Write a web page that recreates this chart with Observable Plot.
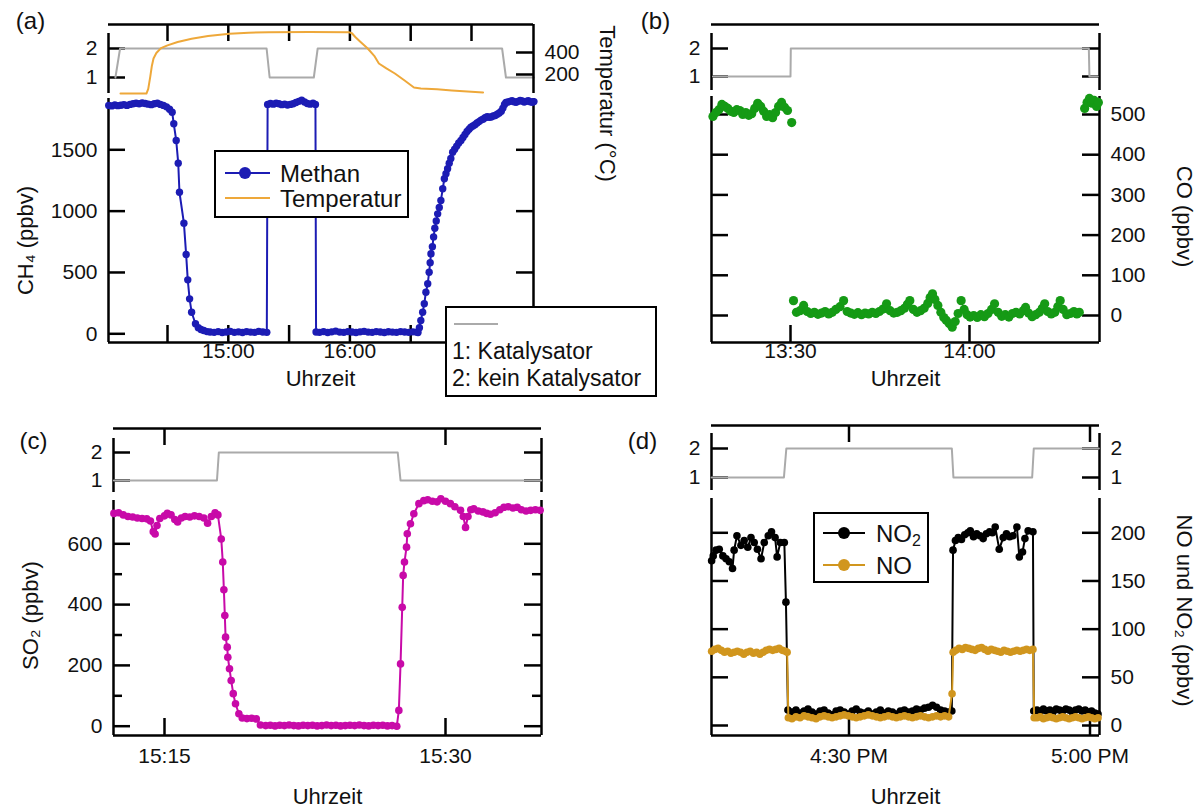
<!DOCTYPE html>
<html><head><meta charset="utf-8">
<script src="https://cdn.jsdelivr.net/npm/d3@7"></script>
<script src="https://cdn.jsdelivr.net/npm/@observablehq/plot@0.6"></script>
<style>
body{margin:0;background:#fff;}
#fig{position:relative;width:1196px;height:811px;overflow:hidden;background:#fff;}
</style></head><body><div id="fig"></div>
<script>
// ---------------- DATA (time = minutes since midnight) ----------------
// Panel (a): CH4 and temperature
const aTicks = [870, 900, 930, 960, 990, 1020];
const aTickLabels = ["", "15:00", "", "16:00", "", ""];
const ch4Ticks = [0, 500, 1000, 1500];
const tempTicks = [200, 400];
const catTicks = [1, 2];
const catA = [[844.3,1],[846.6,2],[918.9,2],[920.4,1],[942.2,1],[944.1,2],[1035.1,2],[1037.0,1],[1050.8,1]];
const tempA = [[846.8,27],[859.6,27],[860.5,70],[861.5,180],[862.3,280],[863.1,345],[864.5,395],[866.8,440],[870,465],[875,495],[881.9,525],[890,550],[900.6,570],[910,580],[919.9,585],[940,586],[959.4,585],[961,575],[962.9,536],[965,500],[968.8,436],[972,370],[974.3,300],[978,255],[982.2,209],[987,145],[991.6,82],[995,73],[1003,65],[1010.3,55],[1018,45],[1025.7,36]];
const methan = [
[841,1862],[842.5,1858],[844,1865],[845.5,1860],[847,1863],[848.5,1868],[850,1862],[851.5,1870],[853,1875],[854.5,1880],[856,1876],[857.5,1882],[859,1878],[860.5,1872],[862,1868],[863.5,1875],[865,1880],[866.5,1870],[868,1862],[869.5,1850],[871,1830],
[872.3,1806],[873.1,1712],[874.3,1576],[875.3,1391],[875.9,1154],[878.1,902],[879.2,646],[880,440],[880.9,285],[881.9,176],[883.8,82],[885.2,50],[886.5,35],[887.9,27],[889.5,18],
[891,15],[893,12],[895,18],[897,10],[899,15],[901,20],[903,12],[905,16],[907,10],[909,18],[911,14],[913,12],[915,20],[917,15],[919,12],
[919.4,1870],[920.8,1878],[922.2,1872],[923.6,1880],[925,1875],[926.4,1868],[927.8,1872],[929.2,1865],[930.6,1870],[932,1876],[933.4,1885],[934.8,1895],[936.2,1905],[937.6,1890],[939,1878],[940.4,1872],[941.8,1880],[943,1870],
[943.3,15],[945,12],[947,18],[949,10],[951,16],[953,22],[955,14],[957,12],[959,18],[961,15],[963,10],[965,16],[967,20],[969,14],[971,12],[973,18],[975,15],[977,11],[979,17],[981,14],[983,12],[985,18],[987,15],[989,12],[991,16],[992.8,14],
[993.6,10],[994.3,50],[995,108],[995.9,176],[996.7,245],[997.5,339],[998.4,408],[999.1,502],[999.6,580],[1000,652],[1000.7,710],[1001.3,790],[1001.9,860],[1002.6,920],[1003.3,978],[1004.1,1030],[1004.9,1087],[1005.8,1182],[1006.6,1264],[1007.4,1305],[1008.2,1345],[1009,1390],[1009.8,1430],[1010.7,1480],[1011.7,1505],[1012.7,1530],[1013.7,1555],[1014.8,1576],[1015.8,1600],[1016.8,1625],[1017.8,1650],[1018.8,1668],[1019.7,1684],[1020.7,1695],[1021.7,1705],[1022.7,1718],[1023.7,1730],[1024.7,1742],[1025.7,1750],[1026.7,1762],[1027.7,1770],[1028.7,1765],[1029.7,1768],[1030.7,1775],[1031.7,1780],[1032.7,1790],[1033.7,1800],[1034.7,1815],[1035.5,1840],[1036.3,1870],[1037,1885],[1038,1890],[1039,1895],[1040,1900],[1041,1892],[1042,1888],[1043,1895],[1044,1902],[1045,1898],[1046,1890],[1047,1895],[1048,1900],[1049,1892],[1050,1888],[1050.8,1893]
];

// Panel (b): CO
const bTicks = [810, 840];
const bTickLabels = ["13:30", "14:00"];
const coTicks = [0, 100, 200, 300, 400, 500];
const catB = [[797,1],[810,1],[810.05,2],[860,2],[860.1,1],[861.5,1]];
const coB = [
[797,495],[797.5,505],[798,512],[798.5,525],[799,520],[799.5,515],[800,508],[800.5,505],[801,512],[801.5,510],[802,500],[802.5,505],[803,498],[803.5,502],[804,515],[804.5,528],[805,520],[805.5,508],[806,495],[806.5,500],[807,492],[807.5,505],[808,520],[808.5,530],[809,518],[809.5,510],[810.2,480],
[810.5,37],[811,8],[811.6,12],[812.2,25],[812.8,10],[813.4,5],[814,8],[814.6,3],[815.2,6],[815.8,10],[816.4,4],[817,8],[817.6,15],[818.3,22],[818.9,37],[819.5,10],[820.1,6],[820.7,3],[821.3,7],[821.9,2],[822.5,6],[823.1,4],[823.7,8],[824.3,5],[824.9,10],[825.5,16],[826.1,29],[826.7,12],[827.3,6],[827.9,8],[828.5,12],[829.1,18],[829.6,28],[830,37],[830.6,15],[831.2,8],[831.8,12],[832.4,18],[833,30],[833.4,45],[833.8,54],[834.2,40],[834.7,25],[835.2,8],[835.7,-5],[836.1,-12],[836.6,-20],[837.1,-29],[837.6,-15],[838.1,5],[838.6,37],[839.1,15],[839.6,2],[840.1,-4],[840.7,0],[841.3,-5],[841.9,2],[842.5,-3],[843.1,5],[843.7,15],[844.2,29],[844.8,8],[845.4,-2],[846,2],[846.6,-4],[847.2,5],[847.8,8],[848.4,4],[849,12],[849.4,20],[849.9,6],[850.5,-3],[851.1,2],[851.7,8],[852.2,18],[852.6,29],[853.1,10],[853.7,4],[854.3,8],[854.8,22],[855.2,37],[855.7,15],[856.3,2],[856.9,5],[857.5,10],[858,4],[858.4,8],
[859.3,515],[859.7,530],[860.1,540],[860.5,528],[860.9,535],[861.3,520],[861.6,530]
];

// Panel (c): SO2
const cTicks = [915, 930];
const cTickLabels = ["15:15", "15:30"];
const so2Ticks = [0, 200, 400, 600];
const so2Minor = [100, 300, 500];
const catC = [[912.3,1],[917.8,1],[917.9,2],[927.45,2],[927.6,1],[935.1,1]];
const so2C = [
[912.3,700],[912.55,702],[912.8,695],[913.05,690],[913.3,688],[913.55,685],[913.8,683],[914.05,682],[914.25,675],[914.4,640],[914.5,632],[914.6,660],[914.75,683],[915,692],[915.15,700],[915.35,695],[915.55,680],[915.7,672],[915.9,685],[916.1,690],[916.35,688],[916.6,692],[916.85,690],[917.1,685],[917.3,668],[917.5,690],[917.7,702],[917.85,695],
[918.03,616],[918.11,540],[918.17,449],[918.22,364],[918.26,293],[918.35,260],[918.38,227],[918.47,189],[918.56,150],[918.67,107],[918.79,74],[918.97,41],[919.15,27],[919.4,25],[919.65,26],[919.9,24],[920.12,4],
[920.4,2],[920.65,3],[920.9,1],[921.15,3],[921.4,2],[921.65,4],[921.9,2],[922.15,1],[922.4,3],[922.65,2],[922.9,3],[923.15,1],[923.4,2],[923.65,4],[923.9,2],[924.15,3],[924.4,1],[924.65,2],[924.9,3],[925.15,2],[925.4,4],[925.65,2],[925.9,1],[926.15,3],[926.4,2],[926.65,3],[926.9,1],[927.15,2],[927.4,0],
[927.51,52],[927.6,205],[927.69,391],[927.74,496],[927.81,540],[927.92,589],[927.96,633],[928.13,666],[928.31,699],[928.58,732],[928.84,742],
[929.05,745],[929.3,740],[929.55,738],[929.75,748],[930,740],[930.26,732],[930.5,722],[930.8,710],[930.95,690],[931.07,654],[931.2,690],[931.35,712],[931.51,715],[931.75,708],[932,705],[932.2,700],[932.4,697],[932.65,702],[932.9,712],[933.12,720],[933.35,722],[933.6,718],[933.83,720],[934.05,712],[934.3,708],[934.55,710],[934.8,712],[935.05,710]
];

// Panel (d): NO2 and NO
const dTicks = [990, 1020];
const dTickLabels = ["4:30 PM", "5:00 PM"];
const noTicks = [0, 50, 100, 150, 200];
const catD = [[972.9,1],[981.9,1],[982.2,2],[1002.8,2],[1003.0,1],[1012.8,1],[1013.0,2],[1021.1,2]];
const no2D = [
[972.9,171],[973.1,176],[973.45,182],[973.85,183],[974.3,176],[974.7,173],[975.1,170],[975.5,163],[975.7,182],[976.05,197],[976.55,187],[976.95,192],[977.4,185],[977.8,195],[978.2,190],[978.6,183],[979.05,173],[979.45,190],[979.95,197],[980.35,201],[980.8,195],[981.05,175],[981.45,190],[981.95,190],[982.15,128],[982.4,16],
[982.9,14],[983.4,16],[983.9,13],[984.4,15],[984.9,17],[985.4,14],[985.9,12],[986.4,15],[986.9,16],[987.4,13],[987.9,11],[988.4,15],[988.9,16],[989.4,14],[989.9,12],[990.4,15],[990.9,17],[991.4,14],[991.9,13],[992.4,15],[992.9,12],[993.4,14],[993.9,16],[994.4,13],[994.9,15],[995.4,14],[995.9,12],[996.4,15],[996.9,16],[997.4,14],[997.9,15],[998.4,17],[998.9,16],[999.4,18],[999.9,19],[1000.4,21],[1000.9,19],[1001.4,16],[1001.9,15],[1002.4,14],[1002.8,15],
[1002.95,182],[1003.25,192],[1003.6,195],[1004,193],[1004.4,198],[1004.8,200],[1005.1,202],[1005.5,196],[1005.9,199],[1006.3,197],[1006.7,194],[1007.1,199],[1007.5,201],[1007.85,200],[1008.2,206],[1008.7,183],[1009.2,195],[1009.6,199],[1010,196],[1010.4,197],[1010.9,206],[1011.2,175],[1011.6,180],[1011.9,194],[1012.3,202],[1012.9,201],[1013,15],
[1013.4,16],[1013.8,14],[1014.2,17],[1014.6,15],[1015,16],[1015.4,14],[1015.8,17],[1016.2,16],[1016.6,15],[1017,17],[1017.4,16],[1017.8,14],[1018.2,16],[1018.6,17],[1019,15],[1019.4,16],[1019.8,14],[1020.2,15],[1020.6,13],[1021,12]
];
const noD = [
[972.9,77],[973.3,79],[973.7,80],[974.1,78],[974.5,76],[974.9,77],[975.3,75],[975.7,76],[976.1,77],[976.5,76],[976.9,74],[977.3,76],[977.7,77],[978.1,75],[978.5,76],[978.9,74],[979.3,76],[979.7,78],[980.1,79],[980.5,78],[980.9,79],[981.3,80],[981.7,78],[982.1,77],[982.3,76],[982.45,8],
[982.9,7],[983.4,9],[983.9,8],[984.4,10],[984.9,9],[985.4,8],[985.9,7],[986.4,9],[986.9,10],[987.4,9],[987.9,8],[988.4,9],[988.9,10],[989.4,11],[989.9,10],[990.4,9],[990.9,8],[991.4,9],[991.9,10],[992.4,11],[992.9,10],[993.4,9],[993.9,8],[994.4,9],[994.9,10],[995.4,9],[995.9,8],[996.4,9],[996.9,10],[997.4,9],[997.9,8],[998.4,9],[998.9,10],[999.4,9],[999.9,8],[1000.4,9],[1000.9,10],[1001.4,9],[1001.9,10],[1002.4,9],[1002.83,33],
[1002.96,76],[1003.3,78],[1003.7,80],[1004.1,79],[1004.5,81],[1004.9,80],[1005.3,79],[1005.7,78],[1006.1,80],[1006.5,81],[1006.9,79],[1007.3,77],[1007.7,79],[1008.1,78],[1008.5,77],[1008.9,76],[1009.3,78],[1009.7,77],[1010.1,76],[1010.5,77],[1010.9,78],[1011.3,77],[1011.7,78],[1012.1,79],[1012.5,78],[1012.9,79],[1013.05,8],
[1013.4,8],[1013.8,9],[1014.2,7],[1014.6,8],[1015,9],[1015.4,8],[1015.8,7],[1016.2,8],[1016.6,9],[1017,8],[1017.4,7],[1017.8,8],[1018.2,9],[1018.6,8],[1019,7],[1019.4,8],[1019.8,9],[1020.2,8],[1020.6,7],[1021,8]
];

// ---------------- STYLE ----------------
const BLUE = "#1c1cb4", ORANGE = "#eea83a", GREEN = "#159a15", MAGENTA = "#c80aa8", GOLD = "#d1961e", GRAY = "#aaaaaa";
const FONT = "'Liberation Sans', Arial, Helvetica, sans-serif";
const W = 1196, H = 811;
const AX = {stroke: "#000", strokeWidth: 2.5};
const MAJOR = 17, MINOR = 9, TICKFONT = 21;
const fig = document.getElementById("fig");
const X = d => d[0], Y = d => d[1];

function lin(vals, px) { return d3.scaleLinear().domain(vals).range(px); }
function plotInto(box, xs, ys, marks) {
  const [L, T, R, B] = box;
  const svg = Plot.plot({
    width: W, height: H,
    marginLeft: L, marginTop: T, marginRight: W - R, marginBottom: H - B,
    x: {domain: [xs.invert(L), xs.invert(R)], axis: null},
    y: {domain: [ys.invert(B), ys.invert(T)], axis: null},
    style: {background: "transparent", position: "absolute", left: "0px", top: "0px", fontFamily: FONT, fontSize: "21px", overflow: "visible", maxWidth: "none", color: "#111"},
    marks
  });
  fig.appendChild(svg);
}
const lT = (v, box, len = MAJOR) => Plot.tickY(v, {y: d => d, insetRight: box[2] - box[0] - len, ...AX});
const rT = (v, box, len = MAJOR) => Plot.tickY(v, {y: d => d, insetLeft: box[2] - box[0] - len, ...AX});
const bT = (v, box, len = MAJOR) => Plot.tickX(v, {x: d => d, insetTop: box[3] - box[1] - len, ...AX});
const tT = (v, box, len = MAJOR) => Plot.tickX(v, {x: d => d, insetBottom: box[3] - box[1] - len, ...AX});
const yLab = (v, anchor, pad = 11) => Plot.axisY({ticks: v, anchor, tickSize: 0, tickPadding: pad, tickFormat: d => String(d), label: null, fontSize: TICKFONT});
const xLab = (v, labels, pad) => Plot.axisX({ticks: v, anchor: "bottom", tickSize: 0, tickPadding: pad, tickFormat: d => labels[v.indexOf(d)], label: null, fontSize: TICKFONT});
const note = (box, str, cx, cy, o = {}) => Plot.text([str], {text: d => d, frameAnchor: "top-left", textAnchor: "middle", lineAnchor: "middle", dx: cx - box[0], dy: cy - box[1], fontSize: 22, fill: "#111", ...o});
const vAxis = (xv, ys, p1, p2) => Plot.ruleX([xv], {y1: ys.invert(p1), y2: ys.invert(p2), ...AX});

// ---------------- PANEL (a) ----------------
{
  const xs = lin([870, 1020], [167, 471]);
  const sBox = [108, 24, 533, 93];
  const sY = lin([1, 2], [77, 48]);
  plotInto(sBox, xs, sY, [
    Plot.ruleY([sY.invert(24)], AX),
    vAxis(xs.invert(108), sY, 93, 33),
    lT(catTicks, sBox), tT(aTicks, sBox),
    yLab(catTicks, "left"),
    Plot.line(catA, {x: X, y: Y, stroke: GRAY, strokeWidth: 2}),
    note(sBox, "(a)", 30, 21, {fontSize: 24})
  ]);
  const tY = lin([200, 400], [74, 52]);
  plotInto(sBox, xs, tY, [
    Plot.ruleX([xs.invert(533)], AX),
    rT(tempTicks, sBox), yLab(tempTicks, "right"),
    Plot.line(tempA, {x: X, y: Y, stroke: ORANGE, strokeWidth: 2}),
    note(sBox, "Temperatur (°C)", 607, 103, {rotate: 90})
  ]);
  const mBox = [108, 98, 533, 342];
  const mY = lin([0, 1500], [333.3, 149.3]);
  plotInto(mBox, xs, mY, [
    Plot.ruleY([mY.invert(342)], AX),
    Plot.ruleX([xs.invert(108)], AX), Plot.ruleX([xs.invert(533)], AX),
    lT(ch4Ticks, mBox), rT(ch4Ticks, mBox), bT(aTicks, mBox),
    yLab(ch4Ticks, "left"), xLab(aTicks, aTickLabels, 1),
    Plot.line(methan, {x: X, y: Y, stroke: BLUE, strokeWidth: 2}),
    Plot.dot(methan, {x: X, y: Y, r: 3.7, fill: BLUE}),
    note(mBox, "Uhrzeit", 320, 378),
    note(mBox, "CH₄ (ppbv)", 25, 240, {rotate: -90})
  ]);
}

// ---------------- PANEL (b) ----------------
{
  const xs = lin([810, 840], [790, 969]);
  const sBox = [711, 24, 1099, 90];
  const sY = lin([1, 2], [76, 48]);
  plotInto(sBox, xs, sY, [
    Plot.ruleY([sY.invert(24)], AX),
    vAxis(xs.invert(711), sY, 90, 33), vAxis(xs.invert(1099), sY, 90, 33),
    lT(catTicks, sBox), rT(catTicks, sBox),
    yLab(catTicks, "left"),
    Plot.line(catB, {x: X, y: Y, stroke: GRAY, strokeWidth: 2}),
    note(sBox, "(b)", 655, 21, {fontSize: 24})
  ]);
  const mBox = [711, 96, 1099, 342];
  const mY = lin([0, 500], [315, 114]);
  plotInto(mBox, xs, mY, [
    Plot.ruleY([mY.invert(342)], AX),
    Plot.ruleX([xs.invert(711)], AX), Plot.ruleX([xs.invert(1099)], AX),
    lT(coTicks, mBox), rT(coTicks, mBox), bT(bTicks, mBox),
    yLab(coTicks, "right"), xLab(bTicks, bTickLabels, 1),
    Plot.dot(coB, {x: X, y: Y, r: 4.6, fill: GREEN}),
    note(mBox, "Uhrzeit", 905, 378),
    note(mBox, "CO (ppbv)", 1184, 216, {rotate: 90})
  ]);
}

// ---------------- PANEL (c) ----------------
{
  const xs = lin([915, 930], [164, 445]);
  const sBox = [113, 428, 541, 492];
  const sY = lin([1, 2], [480, 452]);
  plotInto(sBox, xs, sY, [
    Plot.ruleY([sY.invert(428)], AX),
    vAxis(xs.invert(113), sY, 492, 438), vAxis(xs.invert(541), sY, 492, 438),
    lT(catTicks, sBox), rT(catTicks, sBox), tT(cTicks, sBox),
    yLab(catTicks, "left"),
    Plot.line(catC, {x: X, y: Y, stroke: GRAY, strokeWidth: 2}),
    note(sBox, "(c)", 33, 441, {fontSize: 24})
  ]);
  const mBox = [113, 500, 541, 735];
  const mY = lin([0, 600], [725.7, 543.3]);
  plotInto(mBox, xs, mY, [
    Plot.ruleY([mY.invert(735)], AX),
    Plot.ruleX([xs.invert(113)], AX), Plot.ruleX([xs.invert(541)], AX),
    lT(so2Ticks, mBox), rT(so2Ticks, mBox), lT(so2Minor, mBox, MINOR), rT(so2Minor, mBox, MINOR), bT(cTicks, mBox),
    yLab(so2Ticks, "left"), xLab(cTicks, cTickLabels, 13),
    Plot.line(so2C, {x: X, y: Y, stroke: MAGENTA, strokeWidth: 2}),
    Plot.dot(so2C, {x: X, y: Y, r: 3.8, fill: MAGENTA}),
    note(mBox, "Uhrzeit", 327, 796),
    note(mBox, "SO₂ (ppbv)", 30, 615, {rotate: -90})
  ]);
}

// ---------------- PANEL (d) ----------------
{
  const xs = lin([990, 1020], [848.5, 1089.5]);
  const sBox = [711, 425, 1099, 490];
  const sY = lin([1, 2], [477, 448]);
  plotInto(sBox, xs, sY, [
    Plot.ruleY([sY.invert(425)], AX),
    vAxis(xs.invert(711), sY, 490, 433), vAxis(xs.invert(1099), sY, 490, 433),
    lT(catTicks, sBox), rT(catTicks, sBox), tT(dTicks, sBox),
    yLab(catTicks, "left"), yLab(catTicks, "right"),
    Plot.line(catD, {x: X, y: Y, stroke: GRAY, strokeWidth: 2}),
    note(sBox, "(d)", 642, 441, {fontSize: 24})
  ]);
  const mBox = [711, 498, 1099, 735];
  const mY = lin([0, 200], [725, 532.3]);
  plotInto(mBox, xs, mY, [
    Plot.ruleY([mY.invert(735)], AX),
    Plot.ruleX([xs.invert(711)], AX), Plot.ruleX([xs.invert(1099)], AX),
    lT(noTicks, mBox), rT(noTicks, mBox), bT(dTicks, mBox),
    yLab(noTicks, "right"), xLab(dTicks, dTickLabels, 13),
    Plot.line(no2D, {x: X, y: Y, stroke: "#000", strokeWidth: 2}),
    Plot.dot(no2D, {x: X, y: Y, r: 3.8, fill: "#000"}),
    Plot.line(noD, {x: X, y: Y, stroke: GOLD, strokeWidth: 2}),
    Plot.dot(noD, {x: X, y: Y, r: 3.8, fill: GOLD}),
    note(mBox, "Uhrzeit", 905, 796),
    note(mBox, "NO und NO₂ (ppbv)", 1184, 610, {rotate: 90})
  ]);
}

// ---------------- LEGENDS ----------------
function legend(left, top, w, h, size, inner) {
  const div = document.createElement("div");
  div.style.cssText = `position:absolute;left:${left}px;top:${top}px;width:${w}px;height:${h}px;border:2px solid #000;background:#fff;box-sizing:border-box;`;
  div.innerHTML = `<svg width="${w - 4}" height="${h - 4}" style="display:block;font-family:${FONT};font-size:${size}px;fill:#111">${inner}</svg>`;
  fig.appendChild(div);
}
legend(214, 150, 195, 68, 24,
  `<line x1="9" x2="54" y1="21" y2="21" stroke="${BLUE}" stroke-width="2"/><circle cx="29" cy="21" r="6" fill="${BLUE}"/>
   <text x="64" y="21" dominant-baseline="central">Methan</text>
   <line x1="9" x2="54" y1="46" y2="46" stroke="${ORANGE}" stroke-width="2"/>
   <text x="64" y="46" dominant-baseline="central">Temperatur</text>`);
legend(445, 306, 212, 91, 23,
  `<line x1="7" x2="51" y1="16" y2="16" stroke="${GRAY}" stroke-width="2"/>
   <text x="5" y="43" dominant-baseline="central">1: Katalysator</text>
   <text x="5" y="70" dominant-baseline="central">2: kein Katalysator</text>`);
legend(813, 512, 116, 71, 24,
  `<line x1="8" x2="50" y1="19" y2="19" stroke="#000" stroke-width="2"/><circle cx="29" cy="19" r="6" fill="#000"/>
   <text x="61" y="19" dominant-baseline="central">NO<tspan font-size="16" dy="7">2</tspan></text>
   <line x1="8" x2="50" y1="51" y2="51" stroke="${GOLD}" stroke-width="2"/><circle cx="29" cy="51" r="6" fill="${GOLD}"/>
   <text x="61" y="51" dominant-baseline="central">NO</text>`);
</script></body></html>
